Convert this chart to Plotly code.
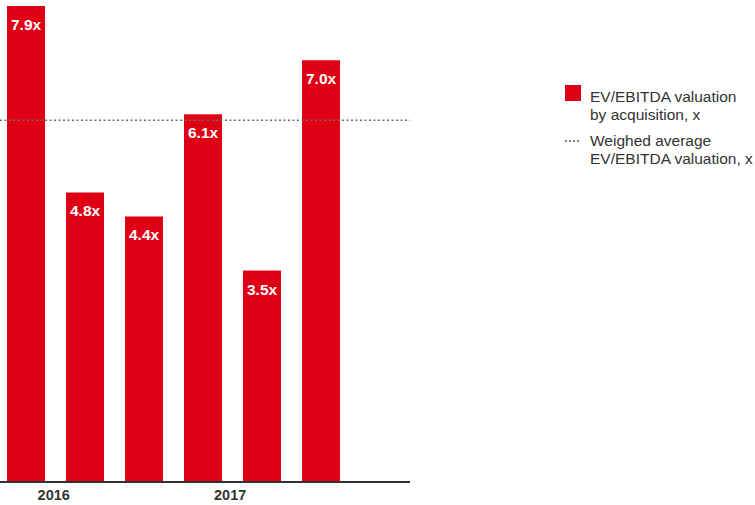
import plotly.graph_objects as go

# ---- data ----
bar_positions = [0, 1, 2, 3, 4, 5]
values = [7.9, 4.8, 4.4, 6.1, 3.5, 7.0]
bar_labels = ["7.9x", "4.8x", "4.4x", "6.1x", "3.5x", "7.0x"]
weighted_avg = 6.0
year_ticks = [0.47, 3.46]
year_labels = ["2016", "2017"]
legend_bar_text = ["EV/EBITDA valuation", "by acquisition, x"]
legend_line_text = ["Weighed average", "EV/EBITDA valuation, x"]

RED = "#E00015"
DARK = "#333333"
BOLD_FONT = "Liberation Sans, Arial, sans-serif"
REG_FONT = "Liberation Sans, Arial, sans-serif"

W, H = 755, 505
ML, MR, MT, MB = 0, 345, 0, 24
PW = W - ML - MR
PH = H - MT - MB


def px_x(px):
    return (px - ML) / PW


def px_y(py):
    return (MT + PH - py) / PH


fig = go.Figure()
fig.add_trace(go.Bar(
    x=bar_positions, y=values, width=0.644,
    marker=dict(color=RED, line=dict(width=0)),
    showlegend=False, hoverinfo="skip",
))

annotations = []
for xv, v, lab in zip(bar_positions, values, bar_labels):
    annotations.append(dict(
        x=xv, y=v, xref="x", yref="y", text="<b>%s</b>" % lab,
        showarrow=False, yanchor="top", xanchor="center", yshift=-8,
        font=dict(family=BOLD_FONT, size=15.5, color="white"),
    ))

# weighted average dotted line
shapes = [dict(
    type="line", xref="paper", x0=0, x1=1, yref="y", y0=weighted_avg, y1=weighted_avg,
    line=dict(color="#6e6e6e", width=1.5, dash="2px,2.5px"), layer="above",
)]

# custom legend
shapes.append(dict(type="rect", xref="paper", yref="paper",
                   x0=px_x(565), x1=px_x(581), y0=px_y(101), y1=px_y(85),
                   fillcolor=RED, line=dict(width=0)))
shapes.append(dict(type="line", xref="paper", yref="paper",
                   x0=px_x(565), x1=px_x(580), y0=px_y(141), y1=px_y(141),
                   line=dict(color="#555555", width=1.5, dash="2px,2px")))
for txt, cy in zip(legend_bar_text + legend_line_text, [96, 114, 140, 158]):
    annotations.append(dict(
        x=px_x(588), y=px_y(cy), xref="paper", yref="paper", text=txt,
        showarrow=False, xanchor="left", yanchor="middle",
        font=dict(family=REG_FONT, size=15.5, color=DARK),
    ))

fig.update_layout(
    width=W, height=H,
    margin=dict(l=ML, r=MR, t=MT, b=MB, pad=0),
    paper_bgcolor="white", plot_bgcolor="white",
    annotations=annotations, shapes=shapes,
    xaxis=dict(
        range=[-26 / 59, 384 / 59], showgrid=False, zeroline=False,
        showline=True, linecolor=DARK, linewidth=2,
        tickvals=year_ticks, ticktext=["<b>%s</b>" % t for t in year_labels],
        ticks="", tickfont=dict(family=BOLD_FONT, size=14.5, color=DARK),
        automargin=False, fixedrange=True,
    ),
    yaxis=dict(range=[0, 8], visible=False, showgrid=False, zeroline=False,
               automargin=False, fixedrange=True),
    showlegend=False,
)

fig.write_html("out.html", config={"displayModeBar": False})
